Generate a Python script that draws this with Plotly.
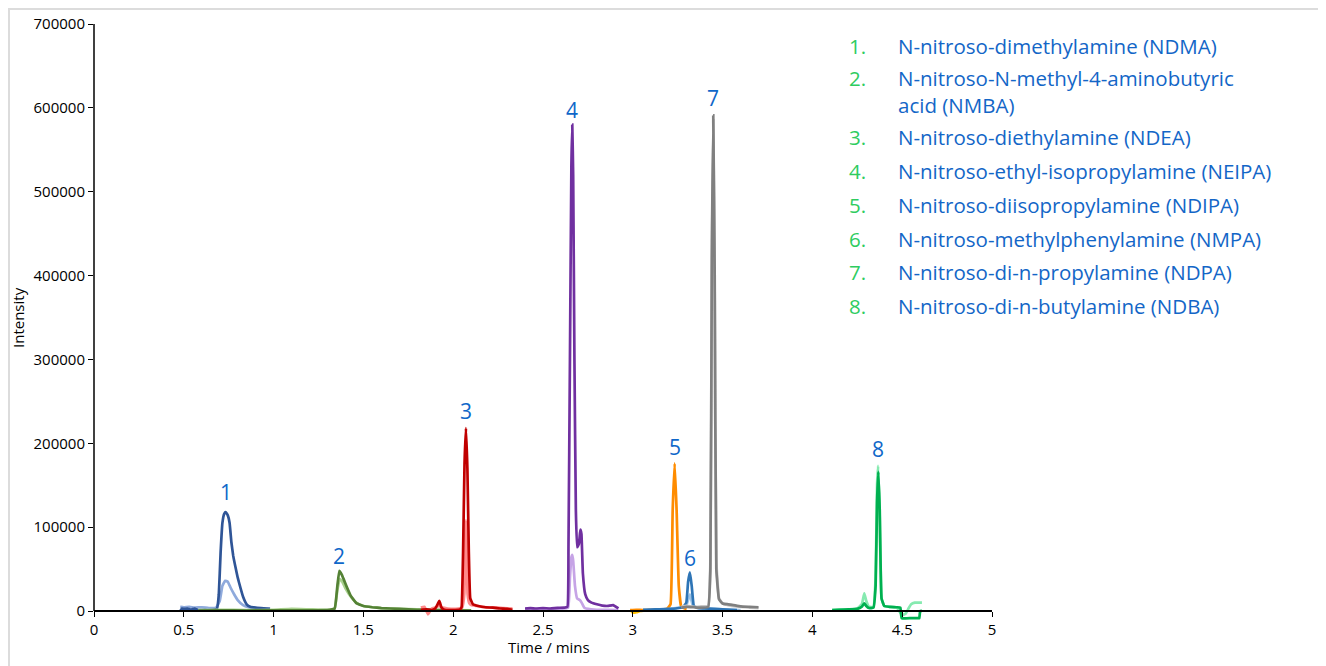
import plotly.graph_objects as go

# ---------------- data ----------------
peak_numbers = ["1", "2", "3", "4", "5", "6", "7", "8"]
peak_label_t = [0.735, 1.363, 2.07, 2.66, 3.235, 3.317, 3.447, 4.365]
peak_label_y = [142000, 65000, 238000, 597000, 196000, 63000, 612000, 193000]

compound_names = [
    "N-nitroso-dimethylamine (NDMA)",
    "N-nitroso-N-methyl-4-aminobutyric<br>acid (NMBA)",
    "N-nitroso-diethylamine (NDEA)",
    "N-nitroso-ethyl-isopropylamine (NEIPA)",
    "N-nitroso-diisopropylamine (NDIPA)",
    "N-nitroso-methylphenylamine (NMPA)",
    "N-nitroso-di-n-propylamine (NDPA)",
    "N-nitroso-di-n-butylamine (NDBA)",
]

x_ticks = [0, 0.5, 1, 1.5, 2, 2.5, 3, 3.5, 4, 4.5, 5]
x_tick_labels = ["0", "0.5", "1", "1.5", "2", "2.5", "3", "3.5", "4", "4.5", "5"]
y_ticks = [0, 100000, 200000, 300000, 400000, 500000, 600000, 700000]

# peak 1 (NDMA)
t1_light = [0.48, 0.50, 0.53, 0.56, 0.60, 0.64, 0.68, 0.70, 0.715, 0.73, 0.745, 0.76, 0.78, 0.80, 0.83, 0.86, 0.90, 0.94, 0.98]
i1_light = [5000, 4500, 5000, 4000, 4500, 3500, 4000, 12000, 30000, 36000, 35000, 28000, 20000, 13000, 7000, 4500, 3500, 3000, 2500]
t1_dark = [0.48, 0.49, 0.50, 0.52, 0.54, 0.56, 0.58, 0.60, 0.63, 0.66, 0.685, 0.695, 0.705, 0.715, 0.725, 0.733, 0.745, 0.755, 0.765, 0.775, 0.79, 0.80, 0.815, 0.83, 0.85, 0.87, 0.90, 0.93, 0.96, 0.98]
i1_dark = [0, 3000, 2500, 3000, 1500, 3000, 800, 1000, 900, 1000, 3000, 20000, 70000, 105000, 116000, 118000, 114000, 105000, 82000, 66000, 50000, 40000, 28000, 17000, 8000, 5000, 4000, 3500, 3000, 2500]

# peak 2 (NMBA)
t2_light = [0.58, 0.70, 0.85, 1.00, 1.10, 1.20, 1.30, 1.34, 1.355, 1.368, 1.38, 1.40, 1.43, 1.46, 1.50, 1.55, 1.60, 1.70, 1.80, 1.90, 2.00, 2.10]
i2_light = [1000, 1500, 1000, 1500, 2500, 2000, 1500, 3000, 25000, 38000, 36000, 27000, 17000, 10000, 6000, 4500, 3500, 2500, 2000, 1500, 1000, 800]
t2_dark = [0.58, 0.70, 0.85, 1.00, 1.10, 1.20, 1.30, 1.34, 1.355, 1.366, 1.378, 1.39, 1.407, 1.43, 1.463, 1.50, 1.55, 1.60, 1.70, 1.80, 1.90, 2.00, 2.10]
i2_dark = [500, 800, 600, 800, 700, 900, 1000, 3000, 30000, 48000, 44000, 38000, 29000, 18000, 9000, 6000, 4500, 3500, 2500, 1500, 1000, 800, 600]

# peak 3 (NDEA)
t3_light = [1.82, 1.84, 1.86, 1.88, 1.90, 1.92, 1.94, 1.97, 2.00, 2.03, 2.05, 2.062, 2.067, 2.071, 2.075, 2.080, 2.09, 2.10, 2.13, 2.16, 2.20, 2.24, 2.28, 2.33]
i3_light = [4000, 5000, -4000, 3000, 4000, 6000, 4000, 3000, 2500, 3000, 4000, 20000, 85000, 108000, 85000, 20000, 9000, 7000, 6000, 5000, 4000, 4500, 3500, 3000]
t3_dark = [1.82, 1.85, 1.88, 1.90, 1.913, 1.923, 1.935, 1.95, 1.98, 2.01, 2.04, 2.047, 2.055, 2.063, 2.071, 2.079, 2.087, 2.095, 2.11, 2.14, 2.18, 2.22, 2.26, 2.30, 2.33]
i3_dark = [1500, 2000, 1200, 3000, 8000, 12000, 4000, 1500, 1000, 1200, 2000, 5000, 70000, 175000, 218000, 170000, 70000, 15000, 8000, 6000, 4500, 4000, 3000, 2500, 1500]

# peak 4 (NEIPA)
t4_light = [2.40, 2.50, 2.60, 2.64, 2.650, 2.658, 2.663, 2.668, 2.678, 2.69, 2.705, 2.715, 2.73, 2.75, 2.80, 2.85, 2.92]
i4_light = [2000, 2500, 2500, 4000, 40000, 64000, 67000, 60000, 30000, 15000, 13000, 10000, 4000, 2500, 1500, 1500, 1000]
t4_dark = [2.40, 2.43, 2.46, 2.50, 2.54, 2.58, 2.62, 2.636, 2.642, 2.650, 2.658, 2.663, 2.668, 2.675, 2.683, 2.690, 2.700, 2.708, 2.714, 2.722, 2.735, 2.75, 2.77, 2.80, 2.83, 2.86, 2.89, 2.92]
i4_dark = [3000, 3500, 3000, 3500, 3000, 3800, 4000, 5000, 80000, 300000, 530000, 580000, 520000, 300000, 120000, 76000, 80000, 97000, 92000, 45000, 20000, 13000, 10000, 8000, 6500, 6000, 7000, 3000]

# peak 5 (NDIPA)
t5_light = [2.99, 3.00, 3.02, 3.04, 3.06]
i5_light = [1000, -2000, -1500, 0, 500]
t5_dark = [2.985, 3.02, 3.06, 3.10, 3.15, 3.19, 3.21, 3.222, 3.233, 3.244, 3.256, 3.27, 3.29, 3.30]
i5_dark = [1000, 1500, 1000, 1500, 2000, 2500, 8000, 120000, 176000, 120000, 30000, 5000, 3000, 2500]

# peak 6 (NMPA)
t6_light = [3.06, 3.12, 3.18, 3.24, 3.28, 3.30, 3.318, 3.335, 3.36, 3.40, 3.45, 3.50, 3.55, 3.60]
i6_light = [1000, 1500, 2000, 3500, 4500, 8000, 20000, 6000, 4000, 3000, 2500, 2000, 1500, 1000]
t6_dark = [3.057, 3.10, 3.15, 3.20, 3.24, 3.28, 3.298, 3.308, 3.318, 3.328, 3.34, 3.36, 3.40, 3.45, 3.50, 3.55, 3.58]
i6_dark = [1500, 1800, 2000, 2500, 3000, 4500, 10000, 35000, 46000, 30000, 6000, 3500, 3000, 2500, 2000, 1500, 1000]

# peak 7 (NDPA)
t7_light = [3.27, 3.30, 3.34, 3.38, 3.42, 3.432, 3.440, 3.448, 3.456, 3.465, 3.48, 3.50, 3.55, 3.60, 3.65, 3.70]
i7_light = [5000, 6000, 5000, 5500, 6000, 60000, 400000, 585000, 380000, 60000, 15000, 9000, 6000, 5000, 4000, 3500]
t7_dark = [3.27, 3.30, 3.34, 3.38, 3.42, 3.432, 3.440, 3.448, 3.456, 3.465, 3.48, 3.50, 3.53, 3.56, 3.60, 3.65, 3.70]
i7_dark = [4000, 5000, 4500, 4000, 5000, 50000, 420000, 591000, 400000, 50000, 14000, 9000, 8000, 7000, 5500, 5000, 4500]

# peak 8 (NDBA)
t8_light = [4.11, 4.15, 4.20, 4.25, 4.275, 4.289, 4.30, 4.315, 4.34, 4.352, 4.360, 4.366, 4.374, 4.385, 4.40, 4.43, 4.47, 4.50, 4.52, 4.535, 4.55, 4.57, 4.61]
i8_light = [1000, 2000, 1500, 3000, 8000, 21000, 12000, 5000, 5000, 40000, 150000, 173000, 120000, 15000, 6000, 5000, 4000, -5000, -3000, 3000, 8000, 10000, 10000]
t8_dark = [4.11, 4.15, 4.20, 4.25, 4.275, 4.289, 4.30, 4.315, 4.34, 4.352, 4.360, 4.367, 4.375, 4.385, 4.40, 4.43, 4.47, 4.49, 4.497, 4.55, 4.58, 4.595, 4.60, 4.61]
i8_dark = [1000, 1500, 2000, 2500, 5000, 9000, 6000, 3500, 4000, 30000, 130000, 166000, 120000, 15000, 6000, 5000, 4500, 4000, -8500, -8500, -8500, -8500, 0, 0]

series = [
    (t1_light, i1_light, "#8faadc"), (t1_dark, i1_dark, "#2f5597"),
    (t2_light, i2_light, "#a9d18e"), (t2_dark, i2_dark, "#548235"),
    (t3_light, i3_light, "#ff8a8a"), (t3_dark, i3_dark, "#c00000"),
    (t4_light, i4_light, "#c6a4e6"), (t4_dark, i4_dark, "#7030a0"),
    (t5_light, i5_light, "#ffc000"), (t5_dark, i5_dark, "#ff8c00"),
    (t6_light, i6_light, "#9dc3e6"), (t6_dark, i6_dark, "#2e75b6"),
    (t7_light, i7_light, "#c8c8c8"), (t7_dark, i7_dark, "#808080"),
    (t8_light, i8_light, "#86eab0"), (t8_dark, i8_dark, "#00b050"),
]

# ---------------- layout geometry (page pixels; figure origin sits at page (8, 8)) ----------------
FONT = "'Open Sans', sans-serif"
OFF = 8
W, H = 1314, 658
PX_L, PX_R = 94, 992          # x = 0 and x = 5
PX_TOP, PX_ZERO, PX_BOT = 24, 611, 621
L, R, T, B = PX_L - OFF, W - (PX_R - OFF), PX_TOP - OFF, H - (PX_BOT - OFF)
plot_w = PX_R - PX_L
plot_h = PX_BOT - PX_TOP
y_top = 700000
px_per_unit = (PX_ZERO - PX_TOP) / y_top
y_bottom = -(PX_BOT - PX_ZERO) / px_per_unit
zero_frac = (PX_BOT - PX_ZERO) / plot_h


def px(xp):
    return (xp - PX_L) / plot_w


def py(yp):
    return (PX_BOT - yp) / plot_h


fig = go.Figure()
for t, v, c in series:
    fig.add_trace(go.Scatter(x=t, y=v, mode="lines",
                             line=dict(color=c, width=2.7, shape="spline", smoothing=0.3),
                             hoverinfo="x+y", showlegend=False))

label_blue = "#0f67c9"
for n, tx, ty in zip(peak_numbers, peak_label_t, peak_label_y):
    fig.add_annotation(x=tx, y=ty, text=n, showarrow=False, xanchor="center", yanchor="middle",
                       font=dict(family=FONT, size=21, color=label_blue))

# compound list (row 2 wraps onto two lines)
num_green = "#2ecc5f"
name_blue = "#1366c7"
row_py = [46, 78, 137, 171, 205, 239, 272, 306]
row_name_py = [46, 91.5, 137, 171, 205, 239, 272, 306]
for k, (name, yy, yn) in enumerate(zip(compound_names, row_py, row_name_py)):
    fig.add_annotation(xref="paper", yref="paper", x=px(847), y=py(yy),
                       text=f"{k + 1}.", showarrow=False, xanchor="left", yanchor="middle",
                       font=dict(family=FONT, size=20.5, color=num_green))
    fig.add_annotation(xref="paper", yref="paper", x=px(896), y=py(yn),
                       text=name, showarrow=False, xanchor="left", yanchor="middle", align="left",
                       font=dict(family=FONT, size=20.5, color=name_blue))

# axis titles
fig.add_annotation(xref="paper", yref="paper", x=px(549), y=py(647),
                   text="Time / mins", showarrow=False, xanchor="center", yanchor="middle",
                   font=dict(family=FONT, size=15, color="#000000"))
fig.add_annotation(xref="paper", yref="paper", x=px(18), y=py(318),
                   text="Intensity", showarrow=False, textangle=-90, xanchor="center", yanchor="middle",
                   font=dict(family=FONT, size=15, color="#000000"))

# y-axis line (from 0 to top) and outer frame
fig.add_shape(type="line", xref="paper", yref="y", x0=0, x1=0, y0=0, y1=y_top,
              line=dict(color="#000000", width=1.5))
fig.add_shape(type="rect", xref="paper", yref="paper",
              x0=px(9), x1=px(1321), y0=py(690), y1=py(9),
              line=dict(color="#dcdcdc", width=2), fillcolor="rgba(0,0,0,0)", layer="below")

fig.update_layout(
    width=W, height=H,
    margin=dict(l=L, r=R, t=T, b=B, autoexpand=False),
    paper_bgcolor="white", plot_bgcolor="white",
    font=dict(family=FONT, size=15, color="#000000"),
    xaxis=dict(range=[0, 5], tickvals=x_ticks, ticktext=x_tick_labels,
               showgrid=False, zeroline=False, showline=True, linecolor="#000000", linewidth=1.5,
               ticks="outside", ticklen=5, tickcolor="#000000", tickwidth=1,
               anchor="free", position=zero_frac, automargin=False,
               tickfont=dict(family=FONT, size=15, color="#000000")),
    yaxis=dict(range=[y_bottom, y_top], tickvals=y_ticks, tickformat="d",
               showgrid=False, zeroline=False, showline=False, automargin=False,
               ticks="outside", ticklen=5, tickcolor="#000000", tickwidth=1,
               tickfont=dict(family=FONT, size=15, color="#000000")),
)

fig.write_html("out.html")
